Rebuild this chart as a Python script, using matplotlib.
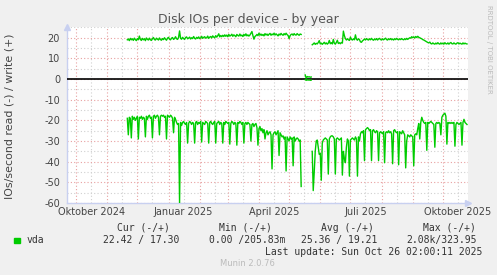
import numpy as np
import pandas as pd
import matplotlib
matplotlib.use('Agg')
import matplotlib.pyplot as plt

# daily values, read is drawn negative, write positive
read_seg1_start = '2024-11-21'
read_seg1 = [-19, -27, -18.5, -19, -28.5, -18, -19.5,
             -18.5, -20, -19, -18, -29, -18.5, -19,
             -18, -19.5, -18.5, -19, -28, -18, -19.5,
             -18, -17.5, -19, -18.5, -28.5, -18, -17.5,
             -19, -18, -17.5, -18.5, -27, -18, -17.5,
             -18, -17.5, -18.5, -18, -29, -17.5, -18,
             -18.5, -17.5, -18, -19, -26, -18.5, -19.5,
             -21, -22, -21.5, -60, -21, -22.5, -21,
             -20.5, -21.5, -22, -21, -31, -21.5, -20.5,
             -21, -22, -21, -21.5, -31, -21, -20.5,
             -22, -21, -21.5, -20.5, -30.5, -21, -21.5,
             -22, -20.5, -21, -21.5, -31, -21, -20.5,
             -21.5, -22, -21, -20.5, -31, -21.5, -21,
             -20.5, -22, -21, -21.5, -31, -21, -22,
             -20.5, -21, -21.5, -21, -31.5, -21.5, -20.5,
             -21, -22, -21, -21.5, -32, -21, -21.5,
             -20.5, -21, -22, -21, -31, -21.5, -21,
             -22, -21, -21.5, -22, -30, -22, -21.5,
             -23, -22, -21.5, -23.5, -32, -24, -23,
             -25, -24, -26, -24.5, -29, -26, -25,
             -27, -26, -25.5, -27, -43.5, -27, -26,
             -25.5, -27, -26, -25, -37, -26, -27,
             -28, -27.5, -29, -28, -44.5, -28, -29,
             -30, -28, -29, -28.5, -42, -28, -30,
             -29, -28.5, -29, -30, -29.5, -52]

read_seg2_start = '2025-05-17'
read_seg2 = [-0.3, -0.6, -0.4, -0.5, -0.4, -0.6, -0.5]

read_seg3_start = '2025-05-24'
read_seg3 = [-35, -54, -45, -35, -30, -29.5, -33,
             -36.5, -36, -49, -31, -29.5, -29, -28.5,
             -29, -29.5, -46, -29, -28, -27.5, -27.5,
             -28, -29, -46, -29, -28.5, -29, -29.5,
             -29, -28.5, -46.5, -35, -38.5, -40.5, -33,
             -29, -30, -47, -29.5, -29, -28.5, -29,
             -29.5, -28, -29, -47, -28, -30, -26.5,
             -25.5, -26, -25, -39.5, -24.5, -24, -23.5,
             -24, -25, -24.5, -39.5, -25, -24.5, -25.5,
             -26, -25, -25.5, -39.5, -26, -25.5, -26,
             -26.5, -25.5, -40.5, -26, -25.5, -26, -25,
             -26, -25.5, -26.5, -41, -25, -24.5, -25.5,
             -26, -25.5, -41.5, -25.5, -26, -26.5, -25,
             -26, -27, -43, -30, -27, -27.5, -28,
             -27, -27.5, -28, -42, -27, -26.5, -27,
             -24, -21.5, -29, -21, -18.5, -20, -21,
             -21.5, -21, -34.5, -21, -21.5, -21, -20.5,
             -21, -21.5, -22, -33, -21.5, -21, -21.5,
             -21, -21.5, -27, -18.5, -17.5, -17, -16.5,
             -18, -31.5, -21, -21.5, -21, -21.5, -21,
             -21.5, -21, -32.5, -22, -21, -21.5, -22,
             -21.5, -21, -32, -21, -19.5, -21, -21.5,
             -22]

write_seg1 = [19.0, 19.4, 18.6, 19.7, 19.0, 19.5, 18.7,
              19.8, 19.1, 18.6, 19.6, 19.0, 20.8, 19.2,
              18.7, 19.7, 19.0, 19.5, 18.6, 19.9, 19.2,
              18.9, 19.8, 19.0, 18.7, 19.6, 20.1, 19.1,
              18.9, 19.8, 19.3, 18.9, 19.9, 19.1, 18.8,
              19.6, 19.1, 20.0, 19.3, 18.8, 19.8, 20.2,
              19.3, 19.0, 19.8, 20.1, 19.2, 19.6, 20.5,
              19.5, 19.2, 20.1, 23.3, 19.7, 19.3, 20.2,
              19.6, 19.2, 20.1, 20.4, 19.5, 19.8, 20.3,
              19.4, 20.0, 19.6, 20.6, 19.7, 19.4, 20.2,
              19.7, 20.4, 19.6, 19.9, 20.7, 19.7, 20.2,
              20.5, 19.8, 20.0, 20.8, 19.7, 20.3, 20.6,
              19.9, 20.9, 20.3, 20.0, 21.0, 20.3, 21.0,
              21.9, 20.4, 21.1, 20.5, 21.2, 20.6, 21.4,
              20.7, 21.3, 20.5, 21.6, 20.8, 21.1, 21.7,
              20.7, 21.4, 21.0, 20.5, 21.6, 21.1, 20.8,
              21.8, 20.9, 21.3, 20.6, 21.6, 21.0, 21.9,
              20.9, 21.4, 20.8, 21.3, 22.2, 23.0, 21.0,
              19.3, 20.6, 21.0, 21.6, 21.0, 22.2, 21.2,
              21.8, 21.1, 21.6, 20.9, 22.0, 21.3, 21.8,
              21.1, 21.7, 22.1, 21.2, 21.8, 21.4, 22.2,
              21.3, 21.9, 21.4, 20.9, 21.8, 21.3, 22.1,
              21.5, 21.2, 22.0, 21.4, 22.2, 21.5, 21.1,
              19.6, 21.0, 21.6, 21.8, 21.2, 22.0, 21.4,
              21.3, 22.0, 21.5, 21.2, 21.8, 21.6]

write_seg2 = [2.0, 0.4, 1.2, 1.0, 1.1, 0.9, 1.0]

write_seg3 = [16.6, 17.0, 17.5, 16.8, 17.3, 17.0, 17.7,
              18.6, 17.0, 17.4, 16.8, 17.3, 17.8, 17.0,
              17.5, 16.9, 17.4, 18.7, 17.1, 17.6, 17.0,
              19.2, 17.3, 16.9, 17.7, 18.8, 17.2, 17.6,
              17.1, 17.7, 17.4, 23.2, 21.0, 19.6, 18.9,
              19.5, 19.0, 18.7, 20.3, 19.2, 18.9, 19.5,
              19.0, 21.4, 19.3, 18.8, 19.5, 19.1, 18.0,
              17.8, 18.5, 18.9, 19.4, 18.9, 19.6, 19.1,
              18.9, 19.5, 19.0, 19.7, 19.1, 18.8, 19.4,
              19.0, 19.6, 18.9, 19.4, 19.7, 19.1, 18.9,
              19.5, 19.0, 19.4, 19.8, 19.1, 18.9, 19.5,
              19.1, 19.6, 19.0, 19.4, 18.9, 19.5, 19.1,
              19.7, 19.2, 19.0, 19.5, 19.1, 19.6, 19.2,
              19.0, 19.5, 19.1, 19.7, 19.2, 19.6, 20.0,
              19.8, 20.5, 20.0, 20.4, 19.9, 20.6, 20.1,
              20.7, 20.2, 20.0, 19.7, 19.5, 19.1, 18.9,
              18.6, 18.3, 18.0, 17.7, 17.5, 17.9, 17.2,
              17.0, 17.5, 17.1, 16.9, 17.4, 17.0, 17.6,
              17.1, 16.9, 17.5, 17.0, 17.4, 16.9, 17.6,
              17.1, 17.0, 17.5, 16.9, 17.4, 17.7, 17.1,
              17.0, 17.5, 17.1, 16.9, 17.4, 17.6, 17.0,
              17.4, 17.1, 16.9, 17.5, 17.0, 17.4, 17.1,
              17.0]

y_ticks = [-60, -50, -40, -30, -20, -10, 0, 10, 20]
x_start, x_end = '2024-09-22', '2025-10-26'
x_labels = ['2024-10-16', '2025-01-16', '2025-04-16', '2025-07-16', '2025-10-16']
x_label_text = ['Oktober 2024', 'Januar 2025', 'April 2025', 'Juli 2025', 'Oktober 2025']

headers = ['Cur (-/+)', 'Min (-/+)', 'Avg (-/+)', 'Max (-/+)']
values = ['22.42 / 17.30', '0.00 /205.83m', '25.36 / 19.21', '2.08k/323.95']

W, H = 497, 275
green = '#00CC00'
bg = '#F0F0F0'

fig = plt.figure(figsize=(W / 100, H / 100), dpi=100, facecolor=bg)
ax = fig.add_axes([67 / W, 1 - 203 / H, 401 / W, 176 / H])
ax.set_facecolor('white')

t0 = pd.Timestamp(x_start)
t1 = pd.Timestamp(x_end)
ax.set_xlim(t0, t1)
ax.set_ylim(-60, 25.2)

# grid: minor gray, major red-ish
months = pd.date_range('2024-10-01', '2025-10-01', freq='MS')
mids = pd.date_range('2024-09-16', '2025-10-16', freq='MS') + pd.Timedelta(days=15)
dot = (0, (1, 2))
for m in mids:
    if t0 < m < t1:
        ax.axvline(m, color='#D0D0D0', lw=0.8, ls=dot, zorder=1)
for v in np.arange(-55, 26, 10):
    ax.axhline(v, color='#D0D0D0', lw=0.8, ls=dot, zorder=1)
for m in months:
    ax.axvline(m, color='#E8A0A0', lw=0.8, ls=dot, zorder=1)
for v in y_ticks:
    ax.axhline(v, color='#E8A0A0', lw=0.8, ls=dot, zorder=1)

ax.axhline(0, color='black', lw=1.2, zorder=3)

segs = [(read_seg1_start, read_seg1), (read_seg2_start, read_seg2), (read_seg3_start, read_seg3),
        (read_seg1_start, write_seg1), (read_seg2_start, write_seg2), (read_seg3_start, write_seg3)]
for start, vals in segs:
    d = pd.date_range(start, periods=len(vals), freq='D')
    ax.plot(d, vals, color=green, lw=1.0, zorder=4)

for s in ['top', 'right']:
    ax.spines[s].set_visible(False)
for s in ['left', 'bottom']:
    ax.spines[s].set_color('#C8D0F0')
    ax.spines[s].set_linewidth(1.0)

# axis arrows
ax.plot([0], [1.0], marker='^', ms=4, color='#C8D0F0', transform=ax.transAxes, clip_on=False)
ax.plot([1.0], [0], marker='>', ms=4, color='#C8D0F0', transform=ax.transAxes, clip_on=False)

ax.set_yticks(y_ticks)
ax.set_yticklabels([str(v) for v in y_ticks])
ax.set_xticks(pd.to_datetime(x_labels))
ax.set_xticklabels(x_label_text)
ax.tick_params(axis='both', length=0, labelsize=7, labelcolor='#444444', pad=3)
ax.tick_params(axis='y', pad=5)

fig.text(248 / W, 1 - 19 / H, 'Disk IOs per device - by year', ha='center', va='center',
         fontsize=9, color='#555555')
fig.text(10 / W, 1 - 116 / H, 'IOs/second read (-) / write (+)', rotation=90,
         ha='center', va='center', fontsize=7.9, color='#444444')
fig.text(489 / W, 1 - 5 / H, 'RRDTOOL / TOBI OETIKER', rotation=270, ha='center', va='top',
         fontsize=5, color='#BBBBBB')

mono = 'DejaVu Sans Mono'
fig.patches.append(plt.Rectangle((14 / W, 1 - 243 / H), 5.5 / W, 5.5 / H, color=green,
                                 transform=fig.transFigure, figure=fig))
fig.text(27 / W, 1 - 240 / H, 'vda', ha='left', va='center', family=mono, fontsize=7, color='#333333')
for cx, h in zip([143, 245, 347, 449], headers):
    fig.text(cx / W, 1 - 227.7 / H, h, ha='center', va='center', family=mono, fontsize=7, color='#333333')
for rx, v in zip([179, 285, 377, 477], values):
    fig.text(rx / W, 1 - 240 / H, v, ha='right', va='center', family=mono, fontsize=7, color='#333333')
fig.text(482 / W, 1 - 251.7 / H, 'Last update: Sun Oct 26 02:00:11 2025', ha='right', va='center',
         family=mono, fontsize=7, color='#333333')
fig.text(247 / W, 1 - 264 / H, 'Munin 2.0.76', ha='center', va='center', fontsize=6, color='#BBBBBB')

fig.savefig('out.png', dpi=100, facecolor=bg)
